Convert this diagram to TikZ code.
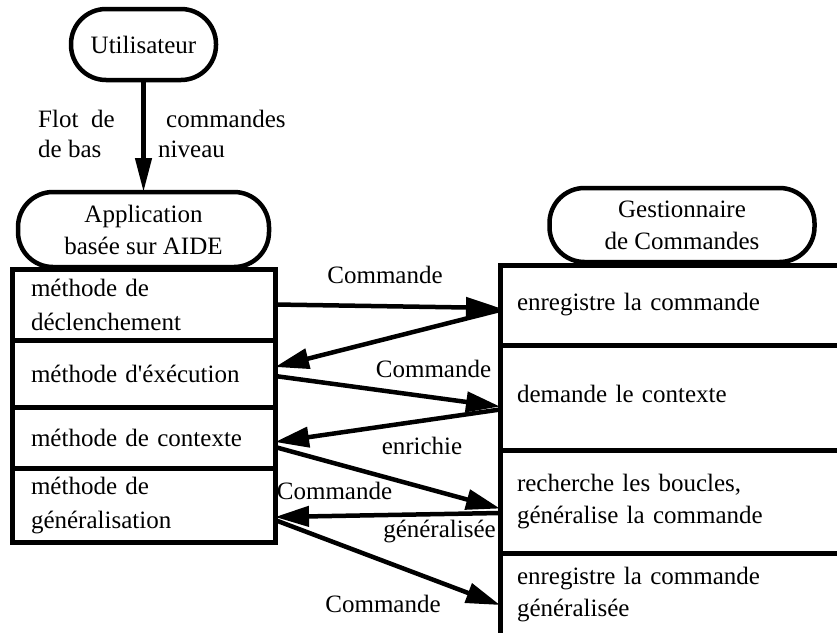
\documentclass[tikz,border=0pt]{standalone}
\usepackage{fontspec}
\setmainfont{Liberation Serif}
\usetikzlibrary{arrows.meta, positioning}
\tikzstyle{stadium} = [rectangle, rounded corners=35pt, draw=black, line width=4.5pt, outer sep=0pt, align=center, font=\fontsize{25}{32}\selectfont]
\tikzstyle{leftrow} = [rectangle, draw=black, line width=5pt, outer sep=0pt, minimum width=263pt, text width=225pt, inner xsep=19pt, inner ysep=3pt, align=left, font=\fontsize{25}{34}\selectfont]
\tikzstyle{rightrow} = [rectangle, draw=black, line width=5pt, outer sep=0pt, minimum width=360pt, text width=326pt, inner xsep=17pt, inner ysep=3pt, align=left, font=\fontsize{25}{32}\selectfont]
\tikzstyle{lbl} = [inner sep=0pt, anchor=base, font=\fontsize{25}{32}\selectfont]
\tikzstyle{arrow} = [line width=4.5pt, -{Triangle[length=34pt,width=20pt]}]

\begin{document}
\begin{tikzpicture}[x=1pt, y=-1pt]
\useasboundingbox (0,0) rectangle (837,632);
% left column
\node (decl) [leftrow, minimum height=71pt, anchor=north west] at (12,269) {méthode de\\déclenchement};
\node (exec) [leftrow, minimum height=67pt, below=0pt of decl] {méthode d\textquotesingle éxécution};
\node (ctx) [leftrow, minimum height=61pt, below=0pt of exec] {méthode de contexte};
\node (gen) [leftrow, minimum height=74pt, below=0pt of ctx] {méthode de\\généralisation};
\node (app) [stadium, minimum width=251pt, minimum height=75pt, above=2pt of decl] {Application\\basée sur AIDE};
\node (user) [stadium, minimum width=145pt, minimum height=71pt, above=112pt of app] {Utilisateur};
% right column
\node (enreg) [rightrow, minimum height=80pt, anchor=north west] at (500,265) {enregistre la commande};
\node (demande) [rightrow, minimum height=105pt, below=0pt of enreg] {\raisebox{7pt}{demande le contexte}};
\node (rech) [rightrow, minimum height=103pt, below=0pt of demande] {recherche les boucles,\\généralise la commande};
\node (enrgen) [rightrow, minimum height=84pt, below=0pt of rech] {enregistre la commande\\généralisée};
\node (gest) [stadium, minimum width=265pt, minimum height=74pt, above=3pt of enreg, xshift=2pt] {Gestionnaire\\de Commandes};

% low level flow
\draw [line width=4.5pt, -{Triangle[length=34pt,width=16pt]}] (user) -- (app);
\node (flot) [lbl, anchor=base west] at (38,127) {Flot~\ de};
\node (cmds) [lbl, anchor=base west] at (166,127) {commandes};
\node (bas) [lbl, anchor=base west] at (38,157) {de bas};
\node (niv) [lbl, anchor=base west] at (158,157) {niveau};

% commands between the two sides
\draw [arrow] (decl.east) -- ([yshift=-3pt]enreg.west);
\draw [arrow] ([yshift=-5pt]enreg.west) -- ([yshift=6.5pt]exec.east);
\draw [arrow] ([yshift=-2.5pt]exec.east) -- ([yshift=-9pt]demande.west);
\draw [arrow] ([yshift=-12pt]demande.west) -- ([yshift=-4.5pt]ctx.east);
\draw [arrow] ([yshift=-9.5pt]ctx.east) -- ([yshift=-7pt]rech.west);
\draw [arrow] ([yshift=-11.5pt]rech.west) -- ([yshift=-12pt]gen.east);
\draw [arrow] ([yshift=-15pt]gen.east) -- ([yshift=-10pt]enrgen.west);

\node (c1) [lbl] at (385,283) {Commande};
\node (c2) [lbl] at (433.5,377) {Commande};
\node (enr) [lbl] at (422,454) {enrichie};
\node (c3) [lbl] at (334.5,499) {Commande};
\node (genl) [lbl] at (439.5,537) {généralisée};
\node (c4) [lbl] at (383,612) {Commande};
\end{tikzpicture}
\end{document}
